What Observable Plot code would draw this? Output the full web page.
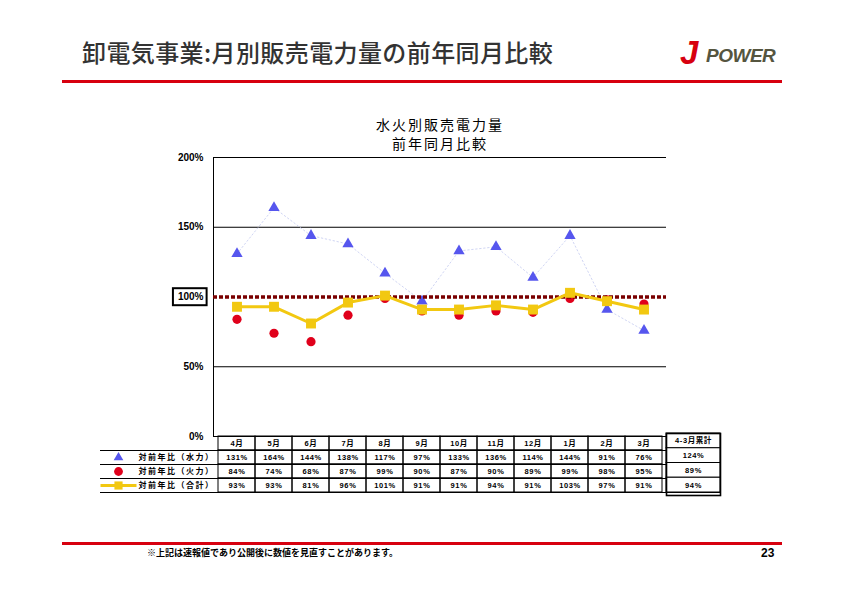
<!DOCTYPE html>
<html><head><meta charset="utf-8">
<script src="https://cdn.jsdelivr.net/npm/d3@7"></script>
<script src="https://cdn.jsdelivr.net/npm/@observablehq/plot@0.6"></script>
<style>
body{margin:0;background:#fff;}
#page{position:relative;width:842px;height:595px;overflow:hidden;font-family:"Noto Sans CJK JP","Noto Sans",sans-serif;background:#fff;}
.abs{position:absolute;}
#title{left:82px;top:36px;font-size:24px;font-weight:500;color:#333;white-space:nowrap;letter-spacing:0.4px;line-height:32px;}
#rule1{left:62px;top:80px;width:720px;height:3px;background:#d7000f;}
#rule2{left:62px;top:542px;width:720px;height:3px;background:#d7000f;}
#logoJ{left:680px;top:34px;font-family:"Liberation Sans",sans-serif;font-weight:bold;font-style:italic;font-size:33px;line-height:38px;color:#d7000f;}
#logoP{left:706px;top:45px;font-family:"Liberation Sans",sans-serif;font-weight:bold;font-style:italic;font-size:19px;line-height:22px;color:#55553f;letter-spacing:-0.5px;}
#ct{left:0;width:880px;top:115px;text-align:center;font-size:14px;line-height:19px;letter-spacing:2px;color:#000;}
#foot{left:147px;top:547px;font-size:9px;line-height:12px;font-weight:bold;color:#000;white-space:nowrap;}
#pnum{left:761px;top:546px;font-family:"Liberation Sans",sans-serif;font-size:12px;line-height:14px;font-weight:bold;color:#000;}
#chart{left:0;top:0;}
#table{left:0;top:436px;}
#summary{left:665px;top:433px;}
</style></head><body><div id="page">
<div id="chart" class="abs"></div>
<div id="table" class="abs"></div>
<div id="summary" class="abs"></div>
<div id="title" class="abs">卸電気事業:月別販売電力量の前年同月比較</div>
<div id="rule1" class="abs"></div>
<div id="logoJ" class="abs">J</div>
<div id="logoP" class="abs">POWER</div>
<div id="ct" class="abs">水火別販売電力量<br>前年同月比較</div>
<div id="rule2" class="abs"></div>
<div id="foot" class="abs">※上記は速報値であり公開後に数値を見直すことがあります。</div>
<div id="pnum" class="abs">23</div>
</div>
<script>
// ---- data ----
const months = ["4月","5月","6月","7月","8月","9月","10月","11月","12月","1月","2月","3月"];
const hydro   = [131,164,144,138,117,97,133,136,114,144,91,76];
const thermal = [84,74,68,87,99,90,87,90,89,99,98,95];
const total   = [93,93,81,96,101,91,91,94,91,103,97,91];
const cumulativeLabel = "4-3月累計";
const cumulative = [124,89,94];
const seriesNames = ["対前年比（水力）","対前年比（火力）","対前年比（合計）"];
const yTicks = [0,50,100,150,200];
const baseline = 100;

const colHydro = "#5656EE", colThermal = "#E0001B", colTotal = "#F2C811";
const tri = "triangle", circ = "circle", sq = "square";

const rows = months.map((m,i)=>({month:m, hydro:hydro[i], thermal:thermal[i], total:total[i]}));

// ---- main chart ----
const chart = Plot.plot({
  width:842, height:446, marginLeft:213, marginRight:176, marginTop:157, marginBottom:10,
  style:{fontFamily:"Liberation Sans, Arial, sans-serif", fontSize:"10px", fontWeight:"bold", background:"transparent", overflow:"visible"},
  x:{type:"band", domain:months, padding:0, axis:null},
  y:{domain:[0,200], ticks:yTicks, tickFormat:d=>d+"%", tickSize:0, tickPadding:10, line:true, label:null},
  marks:[
    Plot.ruleY(yTicks.filter(t=>t!==baseline), {stroke:"#000", strokeWidth:1}),
    Plot.line(rows, {x:"month", y:"hydro", stroke:"#C4CAF0", strokeWidth:0.8, strokeDasharray:"1.5,2.5"}),
    Plot.dot(rows, {x:"month", y:"hydro", symbol:tri, r:4.2, fill:colHydro}),
    Plot.dot(rows, {x:"month", y:"thermal", symbol:circ, r:4.6, fill:colThermal}),
    Plot.ruleY([baseline], {stroke:"#7A0000", strokeWidth:3.5, strokeDasharray:"4,2"}),
    Plot.line(rows, {x:"month", y:"total", stroke:colTotal, strokeWidth:3}),
    Plot.dot(rows, {x:"month", y:"total", symbol:sq, r:5.6, fill:colTotal})
  ]
});
document.getElementById("chart").appendChild(chart);
// box around the 100% tick label
chart.querySelectorAll("text").forEach(t=>{
  if (t.textContent === baseline+"%") {
    const b = t.getBBox();
    const ns = "http://www.w3.org/2000/svg";
    const r = document.createElementNS(ns,"rect");
    r.setAttribute("x", b.x-5); r.setAttribute("y", b.y-3);
    r.setAttribute("width", b.width+8); r.setAttribute("height", b.height+6);
    r.setAttribute("fill","none"); r.setAttribute("stroke","#000"); r.setAttribute("stroke-width","2");
    t.parentNode.insertBefore(r, t);
    if (t.getAttribute("transform")) r.setAttribute("transform", t.getAttribute("transform"));
  }
});

// ---- data table ----
const cells = [];
months.forEach(m=>{ for(let r=0;r<4;r++) cells.push({month:m, r0:r, r1:r+1}); });
const texts = months.flatMap((m,i)=>[
  {month:m, r:0.5, label:m},
  {month:m, r:1.5, label:hydro[i]+"%"},
  {month:m, r:2.5, label:thermal[i]+"%"},
  {month:m, r:3.5, label:total[i]+"%"}
]);
const legend = seriesNames.map((n,i)=>({name:n, r:i+1.5}));
const lineSym = {draw(ctx){ ctx.moveTo(-18,0); ctx.lineTo(18,0); }};
const tableStyle = {fontFamily:"Liberation Sans, 'Noto Sans CJK JP', sans-serif", fontSize:"7.5px", fontWeight:"bold", letterSpacing:"0.6px", background:"transparent", overflow:"visible"};
const table = Plot.plot({
  width:842, height:58, marginLeft:100, marginRight:122, marginTop:0, marginBottom:0,
  style:tableStyle,
  x:{type:"band", domain:months, range:[213,666], padding:0, axis:null},
  y:{domain:[0,4], range:[0,56], axis:null},
  marks:[
    Plot.ruleY([1,2,3,4], {stroke:"#000", strokeWidth:1}),
    Plot.barY(cells, {x:"month", y1:"r0", y2:"r1", fill:"none", stroke:"#000", strokeWidth:1}),
    Plot.text(texts, {x:"month", y:"r", text:"label", fill:"#000"}),
    Plot.dot([legend[0]], {y:"r", frameAnchor:"left", dx:18, symbol:tri, r:3.6, fill:colHydro}),
    Plot.dot([legend[1]], {y:"r", frameAnchor:"left", dx:18, symbol:circ, r:4.4, fill:colThermal}),
    Plot.dot([legend[2]], {y:"r", frameAnchor:"left", dx:18, symbol:lineSym, r:5, stroke:colTotal, strokeWidth:3, fill:"none"}),
    Plot.dot([legend[2]], {y:"r", frameAnchor:"left", dx:18, symbol:sq, r:4.6, fill:colTotal}),
    Plot.text(legend, {y:"r", text:"name", frameAnchor:"left", dx:38, textAnchor:"start", fill:"#000", fontFamily:"Noto Sans CJK JP", fontSize:8})
  ]
});
document.getElementById("table").appendChild(table);
d3.select(table).selectAll("text").filter(function(){ return seriesNames.includes(this.textContent); })
  .style("letter-spacing", "1.5px");

// ---- cumulative column ----
const sumCells = [0,1,2,3].map(r=>({col:cumulativeLabel, r0:r, r1:r+1}));
const sumTexts = [{col:cumulativeLabel, r:0.5, label:cumulativeLabel}].concat(
  cumulative.map((v,i)=>({col:cumulativeLabel, r:i+1.5, label:v+"%"})));
const summary = Plot.plot({
  width:56, height:62, marginLeft:1, marginRight:1, marginTop:0, marginBottom:0,
  style:tableStyle,
  x:{type:"band", domain:[cumulativeLabel], padding:0, axis:null},
  y:{domain:[0,4], range:[0,59], axis:null},
  marks:[
    Plot.barY(sumCells, {x:"col", y1:"r0", y2:"r1", fill:"#fff", stroke:"#000", strokeWidth:1}),
    Plot.frame({stroke:"#000", strokeWidth:1.6}),
    Plot.text(sumTexts, {x:"col", y:"r", text:"label", fill:"#000"})
  ]
});
document.getElementById("summary").appendChild(summary);
</script>
</body></html>
